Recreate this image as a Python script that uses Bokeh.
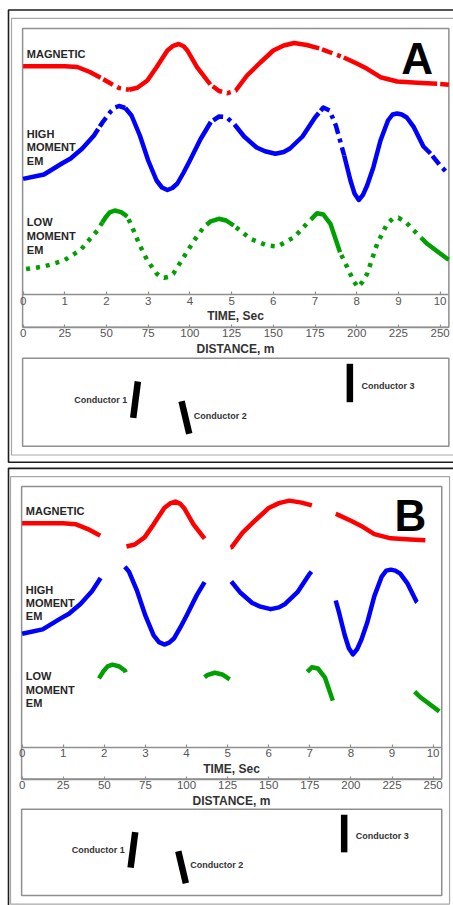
import numpy as np
from bokeh.plotting import figure
from bokeh.models import Range1d, LinearAxis, FixedTicker
from bokeh.layouts import column
from bokeh.core.properties import value
from bokeh.embed import file_html
from bokeh.resources import INLINE

# ---------------- data ----------------
# time in seconds, signal in arbitrary units (height above the time axis)
mag_t = [0.0, 0.5, 1.0, 1.3, 1.6, 1.86, 2.1, 2.3, 2.54, 2.74, 2.98, 3.2, 3.46, 3.6, 3.73,
         3.85, 3.94, 4.17, 4.49, 4.7, 4.9, 5.1, 5.37, 5.69, 6.0, 6.25, 6.5, 6.8, 7.13, 7.4,
         7.69, 8.0, 8.25, 8.57, 8.97, 9.45, 9.93, 10.21]
mag_v = [228.6, 228.6, 228.6, 227.8, 222.8, 217.0, 211.3, 206.8, 205.0, 207.0, 214.3, 227.6,
         244.3, 249.0, 250.8, 248.5, 244.3, 227.6, 210.3, 203.8, 201.6, 204.3, 219.3, 232.3,
         244.3, 249.3, 251.8, 249.8, 246.0, 241.8, 237.3, 231.3, 226.0, 217.6, 213.3, 212.0,
         211.0, 210.1]

hm_t = [0.0, 0.5, 0.93, 1.14, 1.42, 1.7, 1.91, 2.1, 2.2, 2.3, 2.45, 2.6, 2.8, 3.0, 3.2, 3.33,
        3.46, 3.58, 3.7, 3.85, 4.0, 4.25, 4.5, 4.7, 4.8, 4.9, 5.07, 5.3, 5.6, 5.8, 6.05, 6.25,
        6.4, 6.7, 7.0, 7.2, 7.35, 7.5, 7.7, 7.85, 7.95, 8.05, 8.15, 8.25, 8.4, 8.57, 8.75,
        8.86, 8.97, 9.08, 9.2, 9.37, 9.6, 9.77, 10.0, 10.21]
hm_v = [115.9, 120.3, 131.3, 136.3, 146.3, 159.3, 172.8, 183.3, 187.3, 188.8, 186.8, 179.3,
        159.3, 134.3, 114.3, 107.3, 104.8, 106.8, 111.3, 122.3, 134.3, 155.3, 172.8, 178.3,
        178.0, 176.8, 170.3, 158.3, 147.3, 143.5, 141.0, 142.8, 146.3, 158.3, 177.3, 187.3,
        184.3, 169.3, 139.3, 114.3, 101.0, 94.8, 100.0, 109.3, 127.6, 154.3, 174.3, 180.3,
        181.3, 180.3, 177.3, 167.6, 148.3, 141.3, 129.3, 120.3]

lm_t = [0.0, 0.5, 0.98, 1.38, 1.78, 1.98, 2.08, 2.2, 2.35, 2.5, 2.65, 2.8, 2.98, 3.2, 3.28,
        3.38, 3.49, 3.6, 3.85, 4.1, 4.33, 4.5, 4.69, 4.87, 5.05, 5.45, 5.85, 6.1, 6.5, 6.8,
        7.05, 7.2, 7.37, 7.6, 7.81, 7.92, 8.03, 8.14, 8.25, 8.49, 8.73, 8.86, 9.0, 9.18, 9.37,
        9.69, 10.17, 10.21]
lm_v = [25.3, 28.3, 34.3, 45.0, 64.3, 77.6, 82.5, 84.3, 82.7, 78.3, 64.3, 49.3, 34.3, 21.3,
        18.5, 17.0, 18.0, 21.0, 37.6, 54.3, 67.6, 73.5, 76.0, 74.3, 69.3, 56.0, 49.3, 48.3,
        57.6, 71.0, 81.6, 80.3, 71.0, 42.6, 24.3, 14.0, 7.6, 13.0, 21.0, 51.0, 71.0, 76.0,
        77.0, 72.5, 64.3, 51.0, 36.0, 35.3]

# time windows (s) in which each response is recorded (solid parts)
a_mag_on = [(0.0, 1.86), (2.54, 4.49), (5.09, 7.1), (7.69, 9.93)]
a_hm_on = [(0.0, 1.8), (2.45, 4.5), (5.07, 7.09), (7.7, 9.77)]
a_lm_on = [(1.9, 2.5), (4.4, 5.05), (6.9, 7.6), (9.55, 10.21)]

b_mag_on = [(0.0, 1.9), (2.54, 4.44), (5.07, 7.05), (7.63, 9.81)]
b_hm_on = [(0.0, 1.91), (2.5, 4.44), (5.09, 7.04), (7.63, 9.61)]
b_lm_on = [(1.87, 2.52), (4.44, 5.05), (6.94, 7.56), (9.55, 10.15)]

time_ticks = list(range(0, 11))
dist_ticks = list(range(0, 251, 25))
m_per_s = 25.0

cond_names = ["Conductor 1", "Conductor 2", "Conductor 3"]
cond_top_m = [68.8, 95.0, 195.9]
cond_bot_m = [66.0, 99.6, 195.9]
cond_top_d = [-86.7, -106.4, -69.0]
cond_bot_d = [-123.0, -139.0, -107.4]
cond_lab_m = [62.4, 102.3, 202.9]
cond_lab_d = [-104.7, -120.7, -90.7]
cond_lab_align = ["right", "left", "left"]

FONT = "Liberation Sans"
T_END = 10.21
BOX_L = -0.012


def piece(t, v, a, b):
    t = np.asarray(t, float)
    v = np.asarray(v, float)
    inside = (t > a) & (t < b)
    xs = [a] + list(t[inside]) + [b]
    ys = [float(np.interp(a, t, v))] + list(v[inside]) + [float(np.interp(b, t, v))]
    return xs, ys


def gaps(on):
    out = []
    cur = 0.0
    for a, b in on:
        if a > cur + 1e-6:
            out.append((cur, a))
        cur = b
    if cur < T_END - 1e-6:
        out.append((cur, T_END))
    return out


def style_axis(ax, label):
    ax.axis_label = label
    ax.axis_label_text_font = FONT
    ax.axis_label_text_font_style = "bold"
    ax.axis_label_text_font_size = "12px"
    ax.axis_label_text_color = "#333333"
    ax.axis_label_standoff = 1
    ax.major_label_text_font = FONT
    ax.major_label_text_font_size = "11.5px"
    ax.major_label_text_color = "#555555"
    ax.major_label_standoff = 2
    ax.axis_line_color = "#8f8f8f"
    ax.axis_line_width = 1.5
    ax.major_tick_line_color = "#8f8f8f"
    ax.major_tick_line_width = 1.2
    ax.major_tick_in = 3
    ax.major_tick_out = 0
    ax.minor_tick_in = 0
    ax.minor_tick_out = 0


def make_panel(letter, t0, t1, h0, h1, height, black_l, gray_l, gray_r, ons, dashed):
    p = figure(width=453, height=height, output_backend="svg", toolbar_location=None,
               x_range=Range1d(t0, t1), y_range=Range1d(h0, h1),
               x_axis_type=None, y_axis_type=None,
               min_border=0, min_border_left=0, min_border_right=0,
               min_border_top=0, min_border_bottom=0)
    p.outline_line_color = None
    p.background_fill_color = "white"
    p.border_fill_color = "white"
    p.extra_x_ranges = {"dist": Range1d(t0 * m_per_s, t1 * m_per_s)}

    # frames
    p.quad(left=[black_l], right=[11.8], top=[284.8], bottom=[-167.4],
           fill_color=None, line_color="#1e1e1e", line_width=1.6)
    p.quad(left=[gray_l], right=[gray_r], top=[276.4], bottom=[-160.2],
           fill_color=None, line_color="#a8a8a8", line_width=1.2)
    p.quad(left=[BOX_L], right=[T_END], top=[266.3], bottom=[-32.5],
           fill_color=None, line_color="#8f8f8f", line_width=1.5)
    p.quad(left=[BOX_L], right=[T_END], top=[-63.5], bottom=[-151.5],
           fill_color=None, line_color="#8f8f8f", line_width=1.5)

    curves = [(mag_t, mag_v, "#ff0000", "11 5 4 5", 22),
              (hm_t, hm_v, "#0000ff", "11 5 4 5", 22),
              (lm_t, lm_v, "#00a000", "4 6", 7)]
    for (t, v, col, dash, off), on in zip(curves, ons):
        if dashed:
            gx, gy = [], []
            for a, b in gaps(on):
                xs, ys = piece(t, v, a, b)
                gx.append(xs)
                gy.append(ys)
            if gx:
                p.multi_line(gx, gy, line_color=col, line_width=4.5, line_dash=dash,
                             line_dash_offset=off, line_cap="butt", line_join="round")
        sx, sy = [], []
        for a, b in on:
            xs, ys = piece(t, v, a, b)
            sx.append(xs)
            sy.append(ys)
        p.multi_line(sx, sy, line_color=col, line_width=4.5, line_cap="butt",
                     line_join="round")

    # curve labels
    lab_txt = ["MAGNETIC", "HIGH", "MOMENT", "EM", "LOW", "MOMENT", "EM"]
    lab_h = [241.0, 161.0, 147.4, 133.9, 72.4, 58.5, 44.7]
    p.text(x=[0.09] * len(lab_txt), y=lab_h, text=lab_txt, text_font=value(FONT),
           text_font_style="bold", text_font_size="11px", text_color="#262626",
           text_align="left", text_baseline="middle")
    p.text(x=[9.45], y=[236.2], text=[letter], text_font=value(FONT),
           text_font_style="bold", text_font_size="44px", text_color="#000000",
           text_align="center", text_baseline="middle")

    # conductors
    p.segment(x0=cond_top_m, y0=cond_top_d, x1=cond_bot_m, y1=cond_bot_d,
              x_range_name="dist", line_color="#000000", line_width=6.5, line_cap="butt")
    for i in range(3):
        p.text(x=[cond_lab_m[i]], y=[cond_lab_d[i]], text=[cond_names[i]],
               x_range_name="dist", text_font=value(FONT), text_font_style="bold",
               text_font_size="9px", text_color="#333333",
               text_align=cond_lab_align[i], text_baseline="middle")

    # axes
    tax = LinearAxis(fixed_location=0, ticker=FixedTicker(ticks=time_ticks),
                     bounds=(BOX_L, T_END))
    style_axis(tax, "TIME, Sec")
    p.add_layout(tax, "below")
    dax = LinearAxis(fixed_location=-32.5, x_range_name="dist",
                     ticker=FixedTicker(ticks=dist_ticks),
                     bounds=(BOX_L * m_per_s, T_END * m_per_s))
    style_axis(dax, "DISTANCE, m")
    p.add_layout(dax, "below")
    return p


pA = make_panel("A", -0.542, 10.321, -170.7, 294.3, 465, -0.350, -0.278, 11.6,
                (a_mag_on, a_hm_on, a_lm_on), True)
pB = make_panel("B", -0.5255, 10.496, -161.7, 287.7, 440, -0.331, -0.282, 10.40,
                (b_mag_on, b_hm_on, b_lm_on), False)

layout = column(pA, pB, spacing=0)
open("out.html", "w").write(file_html(layout, INLINE))
